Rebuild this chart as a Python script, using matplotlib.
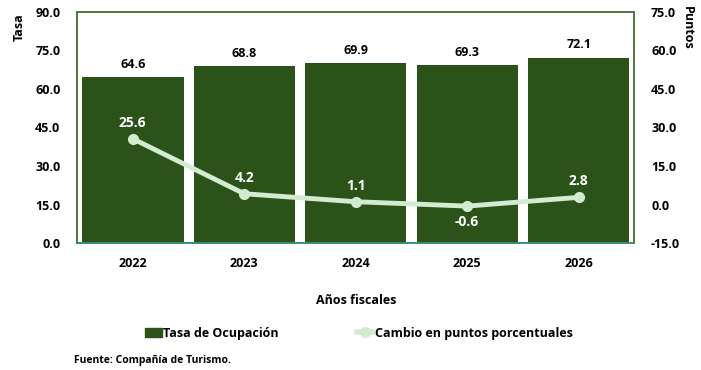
import matplotlib.pyplot as plt
from matplotlib.lines import Line2D
from matplotlib.patches import Patch

plt.rcParams['font.family'] = ['Open Sans', 'DejaVu Sans']
plt.rcParams['font.weight'] = 'bold'

years = ['2022', '2023', '2024', '2025', '2026']
tasa = [64.6, 68.8, 69.9, 69.3, 72.1]
cambio = [25.6, 4.2, 1.1, -0.6, 2.8]

bar_color = '#2b5219'
line_color = '#d3ecd0'

fig = plt.figure(figsize=(7.01, 3.70), dpi=100)
ax = fig.add_axes([0.110, 0.343, 0.795, 0.625])
ax2 = ax.twinx()

xs = range(len(years))
ax.bar(xs, tasa, width=0.91, color=bar_color, zorder=2)
for x, v in zip(xs, tasa):
    ax.text(x, v + 2.5, f'{v:.1f}', ha='center', va='bottom', fontsize=9, fontweight='bold')

ax.set_ylim(0, 90)
ax.set_yticks(range(0, 91, 15))
ax.set_yticklabels([f'{t:.1f}' for t in range(0, 91, 15)])
ax.set_xlim(-0.5, 4.5)
ax.set_xticks(list(xs))
ax.set_xticklabels(years)

ax2.plot(xs, cambio, color=line_color, lw=3.5, marker='o', ms=7, zorder=3)
for x, v in zip(xs, cambio):
    if v < 0:
        ax2.text(x, v - 3.5, f'{v:.1f}', ha='center', va='top', color='white', fontsize=10, fontweight='bold')
    else:
        ax2.text(x, v + 3.5, f'{v:.1f}', ha='center', va='bottom', color='white', fontsize=10, fontweight='bold')
ax2.set_ylim(-15, 75)
ax2.set_yticks(range(-15, 76, 15))
ax2.set_yticklabels([f'{t:.1f}' for t in range(-15, 76, 15)])

for a in (ax, ax2):
    a.tick_params(length=0, labelsize=9, pad=12)
    for s in a.spines.values():
        s.set_color('#4e7a3c')
        s.set_linewidth(1.2)
    a.spines['bottom'].set_color('#3a8a7a')
ax.tick_params(axis='x', pad=10)

ax.set_xlabel('Años fiscales', fontsize=9, fontweight='bold', labelpad=17)
fig.text(0.027, 0.965, 'Tasa', rotation=90, ha='center', va='top', fontsize=9, fontweight='bold')
fig.text(0.980, 0.985, 'Puntos', rotation=-90, ha='center', va='top', fontsize=9, fontweight='bold')

handles = [Patch(color=bar_color, label='Tasa de Ocupación'),
           Line2D([], [], color=line_color, lw=4, marker='o', ms=7, label='Cambio en puntos porcentuales')]
fig.legend(handles=handles, loc='center', bbox_to_anchor=(0.512, 0.1), ncol=2, frameon=False,
           fontsize=9, columnspacing=6.2, handlelength=1.3, handletextpad=0.15)

fig.text(0.105, 0.018, 'Fuente: Compañía de Turismo.', fontsize=7.5, fontweight='bold')

fig.savefig('out.png', dpi=100)
